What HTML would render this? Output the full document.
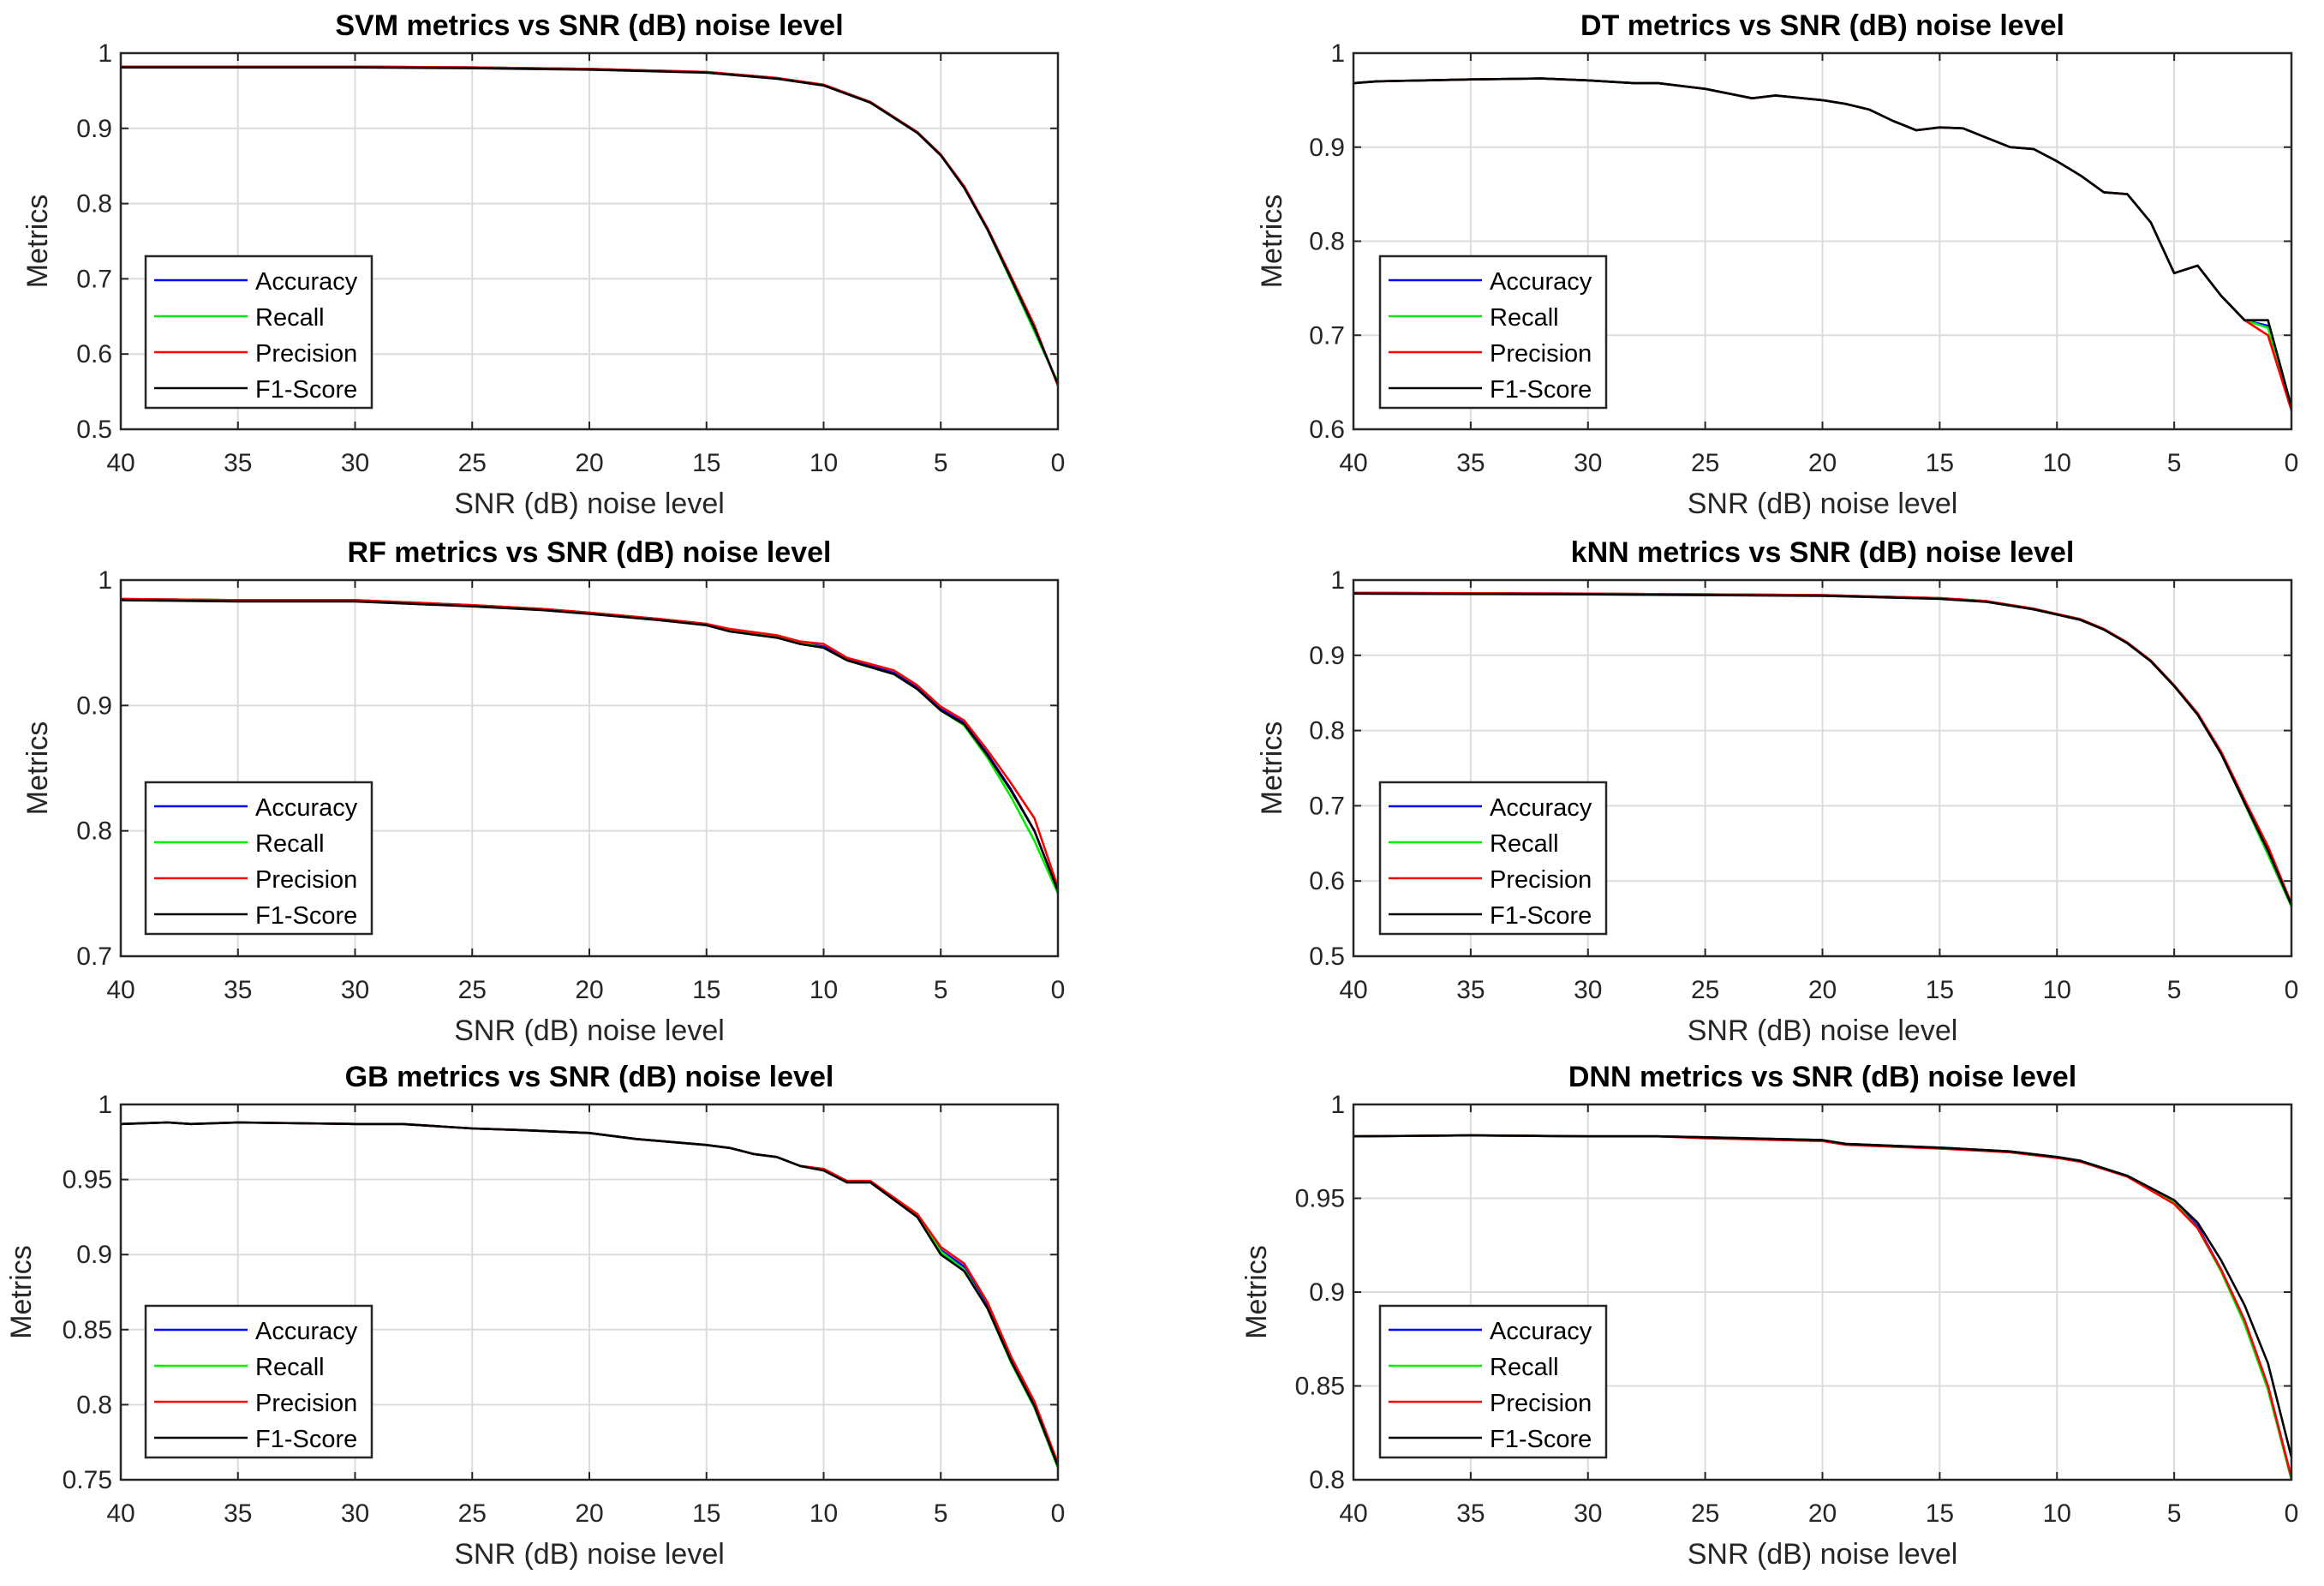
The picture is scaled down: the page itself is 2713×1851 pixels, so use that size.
<!DOCTYPE html>
<html><head><meta charset="utf-8"><style>
body{margin:0;background:#fff;}
svg{display:block;}
text{font-family:"Liberation Sans",sans-serif;}
</style></head><body>
<svg id="fig" width="2713" height="1851" viewBox="0 0 2713 1851" xmlns="http://www.w3.org/2000/svg"></svg>
<script>
// ---- data ----
const svmSnr = [40,35,30,25,20,15,12,10,8,6,5,4,3,2,1,0];
const svmAcc = [0.982,0.982,0.982,0.981,0.979,0.975,0.967,0.958,0.935,0.895,0.865,0.822,0.765,0.700,0.635,0.560];
const svmRec = [0.982,0.982,0.982,0.981,0.979,0.975,0.967,0.958,0.935,0.895,0.865,0.822,0.765,0.698,0.630,0.562];
const svmPre = [0.982,0.982,0.982,0.981,0.979,0.975,0.967,0.958,0.935,0.895,0.865,0.823,0.767,0.703,0.638,0.558];
const svmF1  = [0.981,0.981,0.981,0.980,0.978,0.974,0.966,0.957,0.934,0.894,0.864,0.821,0.765,0.700,0.634,0.560];

const dtSnr = [40,39,35,32,30,28,27,25,24,23,22,20,19,18,17,16,15,14,13,12,11,10,9,8,7,6,5,4,3,2,1,0];
const dtAcc = [0.968,0.970,0.972,0.973,0.971,0.968,0.968,0.962,0.957,0.952,0.955,0.950,0.946,0.940,0.928,0.918,0.921,0.920,0.910,0.900,0.898,0.885,0.870,0.852,0.850,0.820,0.766,0.774,0.742,0.716,0.710,0.622];
const dtRec = [0.968,0.970,0.972,0.973,0.971,0.968,0.968,0.962,0.957,0.952,0.955,0.950,0.946,0.940,0.928,0.918,0.921,0.920,0.910,0.900,0.898,0.885,0.870,0.852,0.850,0.820,0.766,0.774,0.742,0.716,0.708,0.622];
const dtPre = [0.968,0.970,0.972,0.973,0.971,0.968,0.968,0.962,0.957,0.952,0.955,0.950,0.946,0.940,0.928,0.918,0.921,0.920,0.910,0.900,0.898,0.885,0.870,0.852,0.850,0.820,0.766,0.774,0.742,0.716,0.700,0.620];
const dtF1  = [0.968,0.970,0.972,0.973,0.971,0.968,0.968,0.962,0.957,0.952,0.955,0.950,0.946,0.940,0.928,0.918,0.921,0.920,0.910,0.900,0.898,0.885,0.870,0.852,0.850,0.820,0.766,0.774,0.742,0.716,0.716,0.624];

const rfSnr = [40,35,30,25,22,20,17,15,14,12,11,10,9,7,6,5,4,3,2,1,0];
const rfAcc = [0.985,0.984,0.984,0.980,0.977,0.974,0.969,0.965,0.960,0.955,0.950,0.947,0.937,0.926,0.914,0.897,0.886,0.861,0.833,0.800,0.752];
const rfRec = [0.985,0.984,0.984,0.980,0.977,0.974,0.969,0.965,0.960,0.955,0.950,0.946,0.936,0.925,0.913,0.896,0.884,0.858,0.827,0.792,0.750];
const rfPre = [0.985,0.984,0.984,0.980,0.977,0.974,0.969,0.965,0.961,0.956,0.951,0.949,0.938,0.928,0.916,0.899,0.888,0.864,0.838,0.810,0.755];
const rfF1  = [0.984,0.983,0.983,0.979,0.976,0.973,0.968,0.964,0.959,0.954,0.949,0.946,0.936,0.925,0.913,0.896,0.885,0.860,0.832,0.800,0.752];

const knnSnr = [40,30,20,15,13,11,9,8,7,6,5,4,3,2,1,0];
const knnAcc = [0.983,0.982,0.980,0.976,0.972,0.962,0.948,0.935,0.917,0.893,0.860,0.822,0.770,0.705,0.640,0.568];
const knnRec = [0.983,0.982,0.980,0.976,0.972,0.962,0.948,0.935,0.917,0.893,0.860,0.822,0.770,0.703,0.635,0.566];
const knnPre = [0.983,0.982,0.980,0.976,0.972,0.962,0.948,0.935,0.917,0.893,0.860,0.823,0.772,0.708,0.646,0.570];
const knnF1  = [0.982,0.981,0.979,0.975,0.971,0.961,0.947,0.934,0.916,0.892,0.859,0.821,0.769,0.704,0.640,0.568];

const gbSnr = [40,38,37,35,30,28,25,23,20,18,15,14,13,12,11,10,9,8,6,5,4,3,2,1,0];
const gbAcc = [0.987,0.988,0.987,0.988,0.987,0.987,0.984,0.983,0.981,0.977,0.973,0.971,0.967,0.965,0.959,0.957,0.949,0.949,0.926,0.903,0.892,0.866,0.830,0.800,0.760];
const gbRec = [0.987,0.988,0.987,0.988,0.987,0.987,0.984,0.983,0.981,0.977,0.973,0.971,0.967,0.965,0.959,0.957,0.949,0.949,0.926,0.902,0.890,0.864,0.828,0.798,0.758];
const gbPre = [0.987,0.988,0.987,0.988,0.987,0.987,0.984,0.983,0.981,0.977,0.973,0.971,0.967,0.965,0.959,0.957,0.949,0.949,0.927,0.905,0.894,0.868,0.832,0.802,0.761];
const gbF1  = [0.987,0.988,0.987,0.988,0.987,0.987,0.984,0.983,0.981,0.977,0.973,0.971,0.967,0.965,0.959,0.956,0.948,0.948,0.925,0.900,0.889,0.864,0.829,0.799,0.759];

const dnnSnr = [40,35,30,27,25,20,19,15,12,10,9,7,5,4,3,2,1,0];
const dnnAcc = [0.983,0.9835,0.983,0.983,0.9825,0.981,0.979,0.977,0.975,0.972,0.970,0.962,0.948,0.935,0.912,0.885,0.850,0.801];
const dnnRec = [0.983,0.9835,0.983,0.983,0.9825,0.981,0.979,0.977,0.975,0.972,0.970,0.962,0.948,0.934,0.911,0.883,0.848,0.800];
const dnnPre = [0.983,0.9835,0.983,0.983,0.982,0.9805,0.9785,0.9765,0.9745,0.9715,0.9695,0.9615,0.947,0.934,0.912,0.885,0.850,0.801];
const dnnF1  = [0.983,0.9835,0.983,0.983,0.9825,0.981,0.979,0.977,0.975,0.972,0.970,0.962,0.949,0.937,0.917,0.893,0.862,0.812];

const seriesNames = ["Accuracy","Recall","Precision","F1-Score"];
const svmYTicks = [0.5,0.6,0.7,0.8,0.9,1];
const dtYTicks = [0.6,0.7,0.8,0.9,1];
const rfYTicks = [0.7,0.8,0.9,1];
const knnYTicks = [0.5,0.6,0.7,0.8,0.9,1];
const gbYTicks = [0.75,0.8,0.85,0.9,0.95,1];
const dnnYTicks = [0.8,0.85,0.9,0.95,1];
const xTicks = [40,35,30,25,20,15,10,5,0];

// ---- layout ----
const colors = ["#0000ff","#00ee00","#ff0000","#000000"];
const NS = "http://www.w3.org/2000/svg";
const fig = document.getElementById('fig');
function mk(tag, attrs, parent){
  const e = document.createElementNS(NS, tag);
  for (const k in attrs) e.setAttribute(k, attrs[k]);
  (parent||fig).appendChild(e);
  return e;
}
function fmt(v){ return (Math.round(v*100)/100).toString(); }

const panels = [
  {key:"svm", title:"SVM metrics vs SNR (dB) noise level", x0:141, x1:1235, y0:62, y1:501, ymin:0.5, ymax:1, yt:svmYTicks, snr:svmSnr, s:[svmAcc,svmRec,svmPre,svmF1], lx:170, ly:299, ylx:43},
  {key:"dt", title:"DT metrics vs SNR (dB) noise level", x0:1580, x1:2675, y0:62, y1:501, ymin:0.6, ymax:1, yt:dtYTicks, snr:dtSnr, s:[dtAcc,dtRec,dtPre,dtF1], lx:1611, ly:299, ylx:1484},
  {key:"rf", title:"RF metrics vs SNR (dB) noise level", x0:141, x1:1235, y0:677, y1:1116, ymin:0.7, ymax:1, yt:rfYTicks, snr:rfSnr, s:[rfAcc,rfRec,rfPre,rfF1], lx:170, ly:913, ylx:43},
  {key:"knn", title:"kNN metrics vs SNR (dB) noise level", x0:1580, x1:2675, y0:677, y1:1116, ymin:0.5, ymax:1, yt:knnYTicks, snr:knnSnr, s:[knnAcc,knnRec,knnPre,knnF1], lx:1611, ly:913, ylx:1484},
  {key:"gb", title:"GB metrics vs SNR (dB) noise level", x0:141, x1:1235, y0:1289, y1:1727, ymin:0.75, ymax:1, yt:gbYTicks, snr:gbSnr, s:[gbAcc,gbRec,gbPre,gbF1], lx:170, ly:1524, ylx:24},
  {key:"dnn", title:"DNN metrics vs SNR (dB) noise level", x0:1580, x1:2675, y0:1289, y1:1727, ymin:0.8, ymax:1, yt:dnnYTicks, snr:dnnSnr, s:[dnnAcc,dnnRec,dnnPre,dnnF1], lx:1611, ly:1524, ylx:1466}
];

panels.forEach(p => {
  const g = mk('g', {});
  
  
  const xs = v => p.x0 + (40 - v) / 40 * (p.x1 - p.x0);
  const ys = v => p.y1 - (v - p.ymin) / (p.ymax - p.ymin) * (p.y1 - p.y0);
  xTicks.forEach(t => {
    const l = mk('line', {x1:xs(t), x2:xs(t), y1:p.y0, y2:p.y1, stroke:'#dcdcdc', 'stroke-width':2}, g);
    
    
    const tx = mk('text', {x:xs(t), y:p.y1+49, 'font-size':30, fill:'#262626', 'text-anchor':'middle'}, g);
    tx.textContent = t;
    
    
    mk('line', {x1:xs(t), x2:xs(t), y1:p.y1, y2:p.y1-9, stroke:'#262626', 'stroke-width':2}, g);
    mk('line', {x1:xs(t), x2:xs(t), y1:p.y0, y2:p.y0+9, stroke:'#262626', 'stroke-width':2}, g);
  });
  p.yt.forEach(t => {
    const l = mk('line', {x1:p.x0, x2:p.x1, y1:ys(t), y2:ys(t), stroke:'#dcdcdc', 'stroke-width':2}, g);
    
    
    const tx = mk('text', {x:p.x0-10, y:ys(t)+10, 'font-size':30, fill:'#262626', 'text-anchor':'end'}, g);
    tx.textContent = fmt(t);
    
    
    mk('line', {x1:p.x0, x2:p.x0+9, y1:ys(t), y2:ys(t), stroke:'#262626', 'stroke-width':2}, g);
    mk('line', {x1:p.x1, x2:p.x1-9, y1:ys(t), y2:ys(t), stroke:'#262626', 'stroke-width':2}, g);
  });
  p.s.forEach((arr, i) => {
    const d = arr.map((v, j) => (j ? 'L' : 'M') + xs(p.snr[j]).toFixed(1) + ',' + ys(v).toFixed(1)).join(' ');
    const path = mk('path', {d:d, fill:'none', stroke:colors[i], 'stroke-width':2.6, 'stroke-linejoin':'round'}, g);
    
    
  });
  const box = mk('rect', {x:p.x0, y:p.y0, width:p.x1-p.x0, height:p.y1-p.y0, fill:'none', stroke:'#262626', 'stroke-width':2.5}, g);
  
  
  const ti = mk('text', {x:(p.x0+p.x1)/2, y:p.y0-21, 'font-size':34, 'font-weight':'bold', fill:'#000', 'text-anchor':'middle'}, g);
  ti.textContent = p.title;
  
  
  const xl = mk('text', {x:(p.x0+p.x1)/2, y:p.y1+98, 'font-size':34, fill:'#262626', 'text-anchor':'middle'}, g);
  xl.textContent = 'SNR (dB) noise level';
  
  
  const yl = mk('text', {x:0, y:0, 'font-size':34, fill:'#262626', 'text-anchor':'middle', transform:'translate(' + (p.ylx+12) + ',' + ((p.y0+p.y1)/2) + ') rotate(-90)'}, g);
  yl.textContent = 'Metrics';
  
  
  const lg = mk('g', {}, g);
  
  
  mk('rect', {x:p.lx, y:p.ly, width:264, height:177, fill:'#fff', stroke:'#262626', 'stroke-width':2.5}, lg);
  seriesNames.forEach((nm, i) => {
    const yy = p.ly + 28 + i*42;
    const ln = mk('line', {x1:p.lx+10, x2:p.lx+119, y1:yy, y2:yy, stroke:colors[i], 'stroke-width':2.6}, lg);
    
    
    const tx = mk('text', {x:p.lx+128, y:yy+11, 'font-size':29, fill:'#000'}, lg);
    tx.textContent = nm;
    
    
  });
});
</script>
</body></html>
